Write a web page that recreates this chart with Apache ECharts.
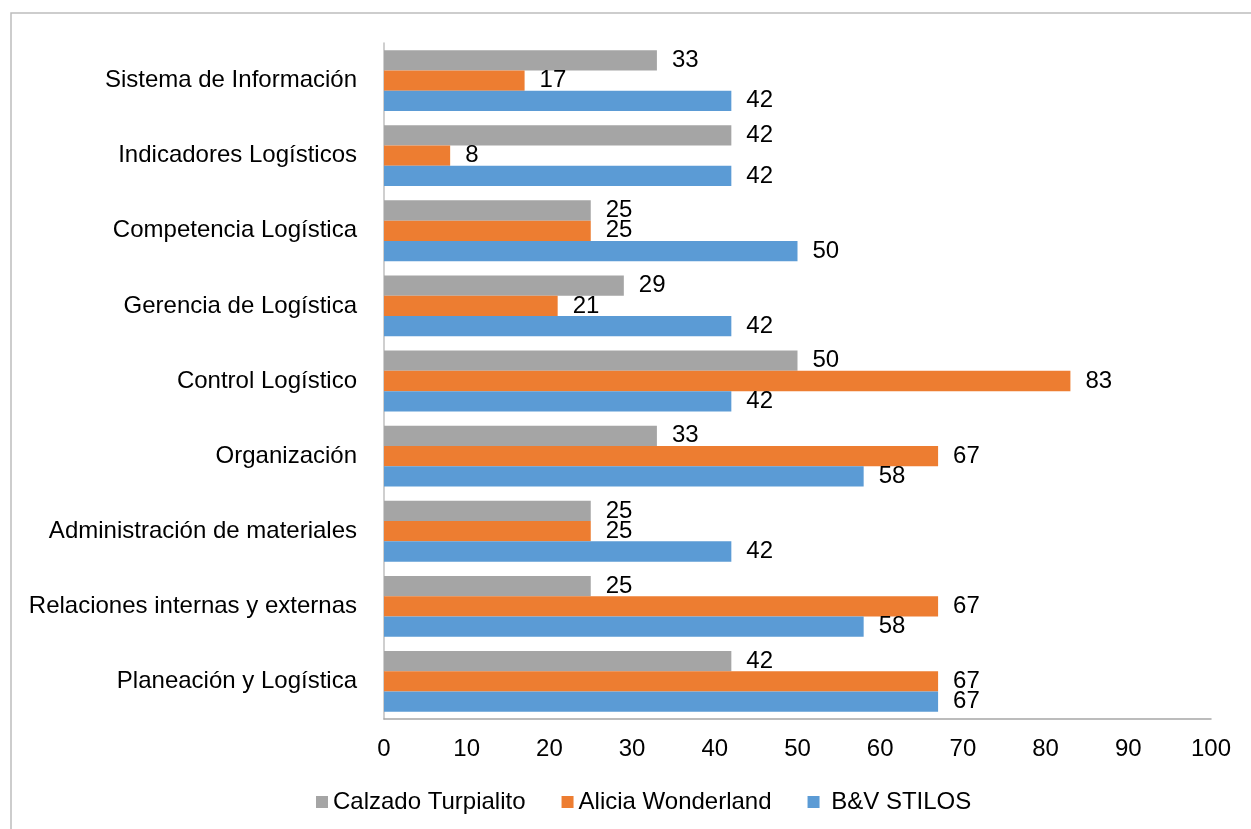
<!DOCTYPE html>
<html>
<head>
<meta charset="utf-8">
<title>Evaluación logística por empresa</title>
<script src="https://cdn.jsdelivr.net/npm/echarts@6/dist/echarts.min.js"></script>
<style>
  html, body { margin: 0; padding: 0; background: #ffffff; }
  #chart { width: 1251px; height: 829px; }
</style>
</head>
<body>
<div id="chart"></div>
<script>
// Categories listed from the bottom of the axis to the top
const categories = [
  'Planeación y Logística',
  'Relaciones internas y externas',
  'Administración de materiales',
  'Organización',
  'Control Logístico',
  'Gerencia de Logística',
  'Competencia Logística',
  'Indicadores Logísticos',
  'Sistema de Información'
];

const calzadoTurpialito = [42, 25, 25, 33, 50, 29, 25, 42, 33];
const aliciaWonderland = [67, 67, 25, 67, 83, 21, 25, 8, 17];
const bvStilos = [67, 58, 42, 58, 42, 42, 50, 42, 42];

const xTicks = { min: 0, max: 100, interval: 10 };

const FONT = '"Liberation Sans", Arial, sans-serif';
const TEXT_SIZE = 24;

const chart = echarts.init(document.getElementById('chart'), null, { renderer: 'canvas' });

function barSeries(name, data, color) {
  return {
    name: name,
    type: 'bar',
    data: data,
    barGap: '0%',
    barCategoryGap: '19%',
    itemStyle: { color: color },
    label: {
      show: true,
      position: 'right',
      distance: 15,
      color: '#000',
      fontFamily: FONT,
      fontSize: TEXT_SIZE
    }
  };
}

chart.setOption({
  backgroundColor: '#ffffff',
  animation: false,
  textStyle: { fontFamily: FONT },
  graphic: [{
    type: 'rect',
    shape: { x: 11, y: 13, width: 1400, height: 1000 },
    style: { fill: 'none', stroke: '#bdbdbd', lineWidth: 1.5 },
    silent: true,
    z: -10
  }],
  grid: { left: 384, right: 40, top: 43, bottom: 110, containLabel: false },
  legend: {
    data: ['Calzado Turpialito', 'Alicia Wonderland', 'B&V STILOS'],
    left: 311,
    top: 785,
    icon: 'rect',
    itemWidth: 12,
    itemHeight: 12,
    itemGap: 36,
    formatter: function (name) { return name === 'B&V STILOS' ? ' ' + name : name; },
    textStyle: { fontFamily: FONT, fontSize: TEXT_SIZE, color: '#000' }
  },
  xAxis: {
    type: 'value',
    min: xTicks.min,
    max: xTicks.max,
    interval: xTicks.interval,
    splitLine: { show: false },
    axisTick: { show: false },
    axisLine: { show: true, lineStyle: { color: '#a6a6a6', width: 1.5 } },
    axisLabel: { margin: 18, color: '#000', fontFamily: FONT, fontSize: TEXT_SIZE }
  },
  yAxis: {
    type: 'category',
    data: categories,
    axisTick: { show: false },
    axisLine: { show: true, lineStyle: { color: '#bfbfbf', width: 1.5 } },
    axisLabel: { margin: 27, color: '#000', fontFamily: FONT, fontSize: TEXT_SIZE }
  },
  series: [
    barSeries('Calzado Turpialito', calzadoTurpialito, '#A5A5A5'),
    barSeries('Alicia Wonderland', aliciaWonderland, '#ED7D31'),
    barSeries('B&V STILOS', bvStilos, '#5B9BD5')
  ]
});
</script>
</body>
</html>
